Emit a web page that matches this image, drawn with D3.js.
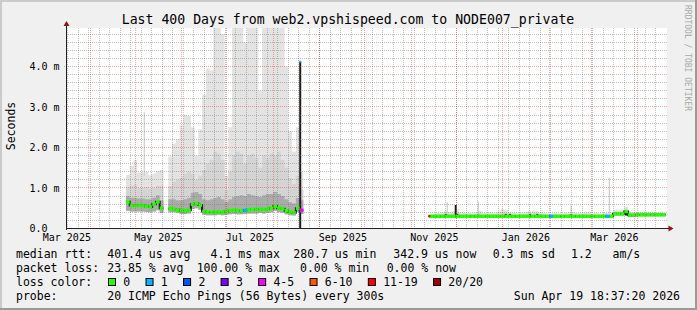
<!DOCTYPE html>
<html>
<head>
<meta charset="utf-8">
<script src="https://cdnjs.cloudflare.com/ajax/libs/d3/7.8.5/d3.min.js"></script>
<style>
  html, body { margin: 0; padding: 0; background: #f0f0f0; }
  svg { display: block; }
  svg text { font-family: 'DejaVu Sans Mono', monospace; fill: #000; white-space: pre; }
</style>
</head>
<body>
<svg id="chart" width="697" height="310"></svg>
<script>
'use strict';

// ---- values (round trip times in milliseconds) ----
var titleText = 'Last 400 Days from web2.vpshispeed.com to NODE007_private';
var startTime = '2025-03-15T18:37:20Z',
    endTime = '2026-04-19T18:37:20Z',
    bucketDays = 2.5;

var xTickLabels = [ 'Mar 2025', 'May 2025', 'Jul 2025', 'Sep 2025', 'Nov 2025', 'Jan 2026', 'Mar 2026' ];
var yTickValues = [ 0, 1, 2, 3, 4 ];
var yTickLabels = [ '0.0', '1.0 m', '2.0 m', '3.0 m', '4.0 m' ];

// three stretches of data, one bucket every 2.5 days
var segmentStarts = [ '2025-04-24T18:00:00Z', '2025-05-23T00:00:00Z', '2025-11-13T00:00:00Z' ];

var medianMs = [
    [ 0.66, 0.57, 0.57, 0.57, 0.57, 0.55, 0.53, 0.60, 0.66, 0.50 ],
    [ 0.49, 0.48, 0.46, 0.44, 0.44, 0.45, 0.60, 0.62, 0.58, 0.42,
      0.40, 0.40, 0.40, 0.41, 0.40, 0.42, 0.44, 0.45, 0.44, 0.43,
      0.45, 0.46, 0.47, 0.47, 0.48, 0.47, 0.48, 0.50, 0.55, 0.50,
      0.49, 0.44, 0.41, 0.39, 0.50, 0.45 ],
    [ 0.30, 0.30, 0.30, 0.30, 0.30, 0.30, 0.30, 0.30, 0.30, 0.30,
      0.30, 0.30, 0.30, 0.30, 0.30, 0.30, 0.30, 0.30, 0.30, 0.30,
      0.30, 0.30, 0.30, 0.30, 0.30, 0.30, 0.30, 0.30, 0.30, 0.30,
      0.30, 0.30, 0.30, 0.30, 0.30, 0.30, 0.30, 0.30, 0.30, 0.30,
      0.30, 0.30, 0.30, 0.30, 0.30, 0.30, 0.30, 0.30, 0.30, 0.36,
      0.36, 0.36, 0.42, 0.33, 0.33, 0.34, 0.34, 0.34, 0.34, 0.34,
      0.34, 0.34, 0.34 ]
];

var minMs = [
    [ 0.44, 0.42, 0.42, 0.42, 0.42, 0.41, 0.40, 0.42, 0.45, 0.38 ],
    [ 0.40, 0.40, 0.38, 0.36, 0.36, 0.37, 0.48, 0.50, 0.46, 0.34,
      0.33, 0.33, 0.33, 0.34, 0.33, 0.34, 0.35, 0.36, 0.35, 0.35,
      0.36, 0.37, 0.37, 0.37, 0.38, 0.37, 0.38, 0.40, 0.44, 0.40,
      0.39, 0.35, 0.33, 0.32, 0.40, 0.36 ],
    [ 0.26, 0.26, 0.26, 0.26, 0.26, 0.26, 0.26, 0.26, 0.26, 0.26,
      0.26, 0.26, 0.26, 0.26, 0.26, 0.26, 0.26, 0.26, 0.26, 0.26,
      0.26, 0.26, 0.26, 0.26, 0.26, 0.26, 0.26, 0.26, 0.26, 0.26,
      0.26, 0.26, 0.26, 0.26, 0.26, 0.26, 0.26, 0.26, 0.26, 0.26,
      0.26, 0.26, 0.26, 0.26, 0.26, 0.26, 0.26, 0.26, 0.26, 0.32,
      0.32, 0.32, 0.34, 0.29, 0.29, 0.30, 0.30, 0.30, 0.30, 0.30,
      0.30, 0.30, 0.30 ]
];

var q3Ms = [
    [ 0.80, 0.76, 0.75, 0.74, 0.74, 0.72, 0.72, 0.76, 0.82, 0.70 ],
    [ 0.72, 0.72, 0.70, 0.70, 0.72, 0.75, 0.88, 0.90, 0.85, 0.72,
      0.70, 0.72, 0.75, 0.78, 0.72, 0.66, 0.72, 0.78, 0.80, 0.82,
      0.80, 0.85, 0.82, 0.80, 0.78, 0.82, 0.85, 0.85, 0.90, 0.85,
      0.80, 0.72, 0.65, 0.62, 0.75, 0.70 ],
    [ 0.32, 0.32, 0.32, 0.32, 0.32, 0.32, 0.32, 0.32, 0.32, 0.32,
      0.32, 0.32, 0.32, 0.32, 0.32, 0.32, 0.32, 0.32, 0.32, 0.32,
      0.32, 0.32, 0.32, 0.32, 0.32, 0.32, 0.32, 0.32, 0.32, 0.32,
      0.32, 0.32, 0.32, 0.32, 0.32, 0.32, 0.32, 0.32, 0.32, 0.32,
      0.32, 0.32, 0.32, 0.32, 0.32, 0.32, 0.32, 0.32, 0.32, 0.38,
      0.38, 0.38, 0.44, 0.36, 0.36, 0.36, 0.36, 0.36, 0.36, 0.36,
      0.36, 0.36, 0.36 ]
];

var p90Ms = [
    [ 1.02, 1.05, 1.08, 1.00, 1.00, 1.02, 0.98, 1.00, 1.05, 1.05 ],
    [ 1.05, 1.15, 1.20, 1.25, 1.35, 1.40, 1.35, 1.20, 1.30, 1.45,
      1.60, 1.70, 1.90, 1.85, 1.70, 0.95, 1.40, 1.80, 1.90, 1.85,
      1.60, 1.80, 1.85, 1.75, 1.50, 1.80, 1.75, 1.85, 1.80, 1.90,
      1.70, 1.50, 1.25, 1.10, 1.30, 0.95 ],
    [ 0.33, 0.34, 0.35, 0.36, 0.38, 0.36, 0.37, 0.40, 0.36, 0.35,
      0.35, 0.35, 0.36, 0.38, 0.35, 0.35, 0.36, 0.35, 0.37, 0.40,
      0.38, 0.36, 0.35, 0.34, 0.35, 0.36, 0.37, 0.38, 0.38, 0.36,
      0.35, 0.34, 0.34, 0.35, 0.34, 0.34, 0.35, 0.36, 0.36, 0.35,
      0.35, 0.36, 0.36, 0.34, 0.35, 0.34, 0.35, 0.35, 0.36, 0.42,
      0.42, 0.42, 0.46, 0.38, 0.37, 0.37, 0.38, 0.37, 0.37, 0.37,
      0.36, 0.36, 0.35 ]
];

var maxMs = [
    [ 1.32, 1.54, 1.69, 1.38, 1.38, 1.40, 1.32, 1.35, 1.42, 1.45 ],
    [ 1.78, 2.10, 2.20, 2.55, 2.80, 2.78, 2.50, 1.80, 2.45, 3.30,
      3.95, 3.90, 4.95, 4.95, 4.80, 1.30, 2.50, 4.95, 4.95, 4.95,
      4.60, 4.95, 4.95, 4.95, 3.40, 4.95, 4.95, 4.95, 4.95, 4.95,
      4.95, 4.00, 2.40, 1.90, 2.50, 1.40 ],
    [ 0.34, 0.37, 0.38, 0.40, 0.44, 0.40, 0.42, 0.48, 0.40, 0.38,
      0.38, 0.38, 0.40, 0.44, 0.38, 0.38, 0.40, 0.38, 0.42, 0.48,
      0.45, 0.40, 0.38, 0.37, 0.38, 0.40, 0.42, 0.44, 0.44, 0.40,
      0.38, 0.37, 0.37, 0.38, 0.37, 0.37, 0.38, 0.40, 0.40, 0.38,
      0.38, 0.40, 0.40, 0.37, 0.38, 0.37, 0.38, 0.38, 0.40, 0.46,
      0.46, 0.47, 0.53, 0.42, 0.40, 0.40, 0.41, 0.40, 0.40, 0.39,
      0.39, 0.38, 0.37 ]
];

// lost pings out of 20 per bucket
var lossCount = [
    [ 0, 0, 0, 0, 0, 0, 0, 0, 0, 0 ],
    [ 0, 0, 0, 0, 0, 0, 0, 0, 0, 0, 0, 0, 0, 0, 0, 0, 0, 0, 0, 0,
      1, 0, 0, 0, 0, 0, 0, 0, 0, 0, 0, 0, 0, 0, 0, 5 ],
    [ 0, 0, 0, 0, 0, 0, 0, 0, 0, 0, 0, 0, 0, 0, 0, 0, 0, 0, 0, 0,
      0, 0, 0, 0, 0, 0, 0, 0, 0, 0, 0, 0, 1, 0, 0, 0, 0, 0, 0, 0,
      0, 0, 0, 0, 0, 0, 0, 1, 0, 0, 0, 0, 0, 0, 0, 0, 0, 0, 0, 0,
      0, 0, 0 ]
];

// single outliers narrower than a bucket
var spikes = [
    { date: '2025-05-07T00:00:00Z', lo: 1.30, hi: 2.87, tone: 'light' },
    { date: '2025-08-18T22:00:00Z', lo: 0.00, hi: 4.12, tone: 'dark', tipLoss: 1 },
    { date: '2025-11-13T00:00:00Z', lo: 0.28, hi: 0.31, tone: 'dark', tipLoss: 15 },
    { date: '2025-11-23T22:00:00Z', lo: 0.27, hi: 0.36, tone: 'dark' },
    { date: '2025-11-25T00:00:00Z', lo: 0.36, hi: 0.65, tone: 'light' },
    { date: '2025-11-30T14:00:00Z', lo: 0.27, hi: 0.58, tone: 'dark' },
    { date: '2025-12-01T17:00:00Z', lo: 0.27, hi: 0.36, tone: 'dark' },
    { date: '2025-12-15T16:00:00Z', lo: 0.36, hi: 0.67, tone: 'light' },
    { date: '2025-12-15T16:00:00Z', lo: 0.28, hi: 0.34, tone: 'dark' },
    { date: '2026-01-02T22:00:00Z', lo: 0.27, hi: 0.36, tone: 'dark' },
    { date: '2026-01-05T19:00:00Z', lo: 0.27, hi: 0.36, tone: 'dark' },
    { date: '2026-01-19T02:00:00Z', lo: 0.27, hi: 0.36, tone: 'dark' },
    { date: '2026-01-24T00:00:00Z', lo: 0.27, hi: 0.36, tone: 'dark' },
    { date: '2026-02-15T12:00:00Z', lo: 0.36, hi: 0.57, tone: 'light' },
    { date: '2026-02-15T12:00:00Z', lo: 0.27, hi: 0.35, tone: 'dark' },
    { date: '2026-03-13T00:00:00Z', lo: 0.36, hi: 1.25, tone: 'light' },
    { date: '2026-03-24T02:00:00Z', lo: 0.32, hi: 0.42, tone: 'dark' }
];

var lossLabels = [ '0', '1', '2', '3', '4-5', '6-10', '11-19', '20/20' ];
var lossLimits = [ 0, 1, 2, 3, 5, 10, 19, 20 ];
var lossColors = [ '#26ff00', '#00b8ff', '#0059ff', '#7e00ff', '#ff00ff', '#ff5500', '#ff0000', '#a10000' ];

var rttStats = [ '401.4 us avg', '4.1 ms max', '280.7 us min', '342.9 us now', '0.3 ms sd', '1.2   am/s' ];
var lossStats = [ '23.85 % avg', '100.00 % max', '0.00 % min', '0.00 % now' ];
var probeText = '20 ICMP Echo Pings (56 Bytes) every 300s';
var stampText = 'Sun Apr 19 18:37:20 2026';

// ---- drawing ----
(function(){
    var W = 697, H = 310,
        left = 66, right = 666, top = 28, bottom = 228;

    var svg = d3.select( '#chart' );

    var x = d3.scaleUtc()
        .domain( [ new Date( startTime ), new Date( endTime ) ] )
        .range( [ left, right ] );
    var y = d3.scaleLinear()
        .domain( [ 0, 4.95 ] )
        .range( [ bottom + 0.5, top ] );

    function crisp( v ){ return Math.floor( v ) + 0.5; }

    function lossColor( n ){
        for( var i = 0; i < lossLimits.length; i++ ){
            if( n <= lossLimits[i] ){ return lossColors[i]; }
        }
        return lossColors[ lossColors.length - 1 ];
    }

    // frame
    svg.append( 'rect' ).attr( 'width', W ).attr( 'height', H ).attr( 'fill', '#f0f0f0' );
    svg.append( 'path' ).attr( 'd', 'M0,1H' + W + 'M1,0V' + H )
        .attr( 'stroke', '#cbcbcb' ).attr( 'stroke-width', 2 );
    svg.append( 'path' ).attr( 'd', 'M0,' + ( H - 1 ) + 'H' + W + 'M' + ( W - 1 ) + ',0V' + H )
        .attr( 'stroke', '#9a9a9a' ).attr( 'stroke-width', 2 );

    // canvas
    svg.append( 'rect' )
        .attr( 'x', left ).attr( 'y', top )
        .attr( 'width', right - left + 1 ).attr( 'height', bottom - top )
        .attr( 'fill', '#ffffff' );

    // buckets
    var segments = segmentStarts.map( function( s, si ){
        var t0 = new Date( s );
        return medianMs[si].map( function( m, k ){
            return {
                t0 : d3.utcHour.offset( t0, k * bucketDays * 24 ),
                t1 : d3.utcHour.offset( t0, ( k + 1 ) * bucketDays * 24 ),
                median : m,
                min : minMs[si][k],
                q3 : q3Ms[si][k],
                p90 : p90Ms[si][k],
                max : maxMs[si][k],
                loss : lossCount[si][k]
            };
        });
    });

    function stepPoints( seg ){
        var pts = seg.map( function( d ){ return { t : d.t0, d : d }; } );
        pts.push( { t : seg[ seg.length - 1 ].t1, d : seg[ seg.length - 1 ] } );
        return pts;
    }

    var smokeLayers = [
        { lo : 'min', hi : 'max', fill : '#e3e3e3' },
        { lo : 'min', hi : 'p90', fill : '#d4d4d4' },
        { lo : 'min', hi : 'q3', fill : '#ababab' }
    ];

    var dataG = svg.append( 'g' );

    smokeLayers.forEach( function( layer ){
        var area = d3.area()
            .x( function( p ){ return x( p.t ); } )
            .y0( function( p ){ return y( p.d[ layer.lo ] ); } )
            .y1( function( p ){ return y( Math.min( p.d[ layer.hi ], 4.95 ) ); } )
            .curve( d3.curveStepAfter );
        dataG.selectAll( null )
            .data( segments )
            .enter().append( 'path' )
            .attr( 'd', function( seg ){ return area( stepPoints( seg ) ); } )
            .attr( 'fill', layer.fill );
    });

    // spikes
    dataG.selectAll( null )
        .data( spikes )
        .enter().append( 'line' )
        .attr( 'x1', function( d ){ return x( new Date( d.date ) ); } )
        .attr( 'x2', function( d ){ return x( new Date( d.date ) ); } )
        .attr( 'y1', function( d ){ return y( d.lo ); } )
        .attr( 'y2', function( d ){ return y( d.hi ); } )
        .attr( 'stroke', function( d ){ return d.tone === 'dark' ? '#1c1c1c' : '#d2d2d2'; } )
        .attr( 'stroke-width', function( d ){ return d.tone === 'dark' ? 2 : 1.4; } );

    // dark median trace, visible at the jumps
    var trace = d3.line()
        .x( function( p ){ return x( p.t ); } )
        .y( function( p ){ return y( p.d.median ); } )
        .curve( d3.curveStepAfter );
    dataG.selectAll( null )
        .data( segments )
        .enter().append( 'path' )
        .attr( 'd', function( seg ){ return trace( stepPoints( seg ) ); } )
        .attr( 'fill', 'none' )
        .attr( 'stroke', '#1c1c1c' )
        .attr( 'stroke-width', 2 );

    // median bars coloured by loss
    var buckets = d3.merge( segments );
    dataG.selectAll( null )
        .data( buckets )
        .enter().append( 'line' )
        .attr( 'x1', function( d ){ return x( d.t0 ); } )
        .attr( 'x2', function( d ){ return x( d.t1 ); } )
        .attr( 'y1', function( d ){ return y( d.median ); } )
        .attr( 'y2', function( d ){ return y( d.median ); } )
        .attr( 'stroke', function( d ){ return lossColor( d.loss ); } )
        .attr( 'stroke-width', 3.5 );

    dataG.selectAll( null )
        .data( spikes.filter( function( d ){ return d.tipLoss != null; } ) )
        .enter().append( 'rect' )
        .attr( 'x', function( d ){ return x( new Date( d.date ) ) - 1; } )
        .attr( 'y', function( d ){ return y( d.hi ) - 1; } )
        .attr( 'width', 2 ).attr( 'height', 2 )
        .attr( 'fill', function( d ){ return lossColor( d.tipLoss ); } );

    // grid on top of the data, like rrdtool
    var gridG = svg.append( 'g' ).attr( 'fill', 'none' ).attr( 'stroke-dasharray', '1,1' );
    var minorStroke = 'rgba(120,120,120,0.45)',
        majorStroke = 'rgba(225,40,40,0.42)';

    var weeks = d3.utcMonday.range( x.domain()[0], x.domain()[1] ),
        months = d3.utcMonth.range( x.domain()[0], x.domain()[1] );

    gridG.selectAll( null ).data( weeks ).enter().append( 'line' )
        .attr( 'x1', function( d ){ return crisp( x( d ) ); } )
        .attr( 'x2', function( d ){ return crisp( x( d ) ); } )
        .attr( 'y1', top ).attr( 'y2', bottom )
        .attr( 'stroke', minorStroke );

    var minorY = d3.range( 1, 25 ).filter( function( i ){ return i % 5 !== 0; } )
        .map( function( i ){ return i / 5; } );
    gridG.selectAll( null ).data( minorY ).enter().append( 'line' )
        .attr( 'x1', left ).attr( 'x2', right + 1 )
        .attr( 'y1', function( d ){ return crisp( y( d ) ); } )
        .attr( 'y2', function( d ){ return crisp( y( d ) ); } )
        .attr( 'stroke', minorStroke );

    gridG.selectAll( null ).data( months ).enter().append( 'line' )
        .attr( 'x1', function( d ){ return crisp( x( d ) ); } )
        .attr( 'x2', function( d ){ return crisp( x( d ) ); } )
        .attr( 'y1', top ).attr( 'y2', bottom + 2 )
        .attr( 'stroke', majorStroke );

    gridG.selectAll( null ).data( yTickValues.slice( 1 ) ).enter().append( 'line' )
        .attr( 'x1', left - 2 ).attr( 'x2', right + 2 )
        .attr( 'y1', function( d ){ return crisp( y( d ) ); } )
        .attr( 'y2', function( d ){ return crisp( y( d ) ); } )
        .attr( 'stroke', majorStroke );

    // axes lines and arrows
    svg.append( 'path' )
        .attr( 'd', 'M' + left + ',' + crisp( bottom ) + 'H' + ( right + 4 ) +
                    'M' + crisp( left ) + ',' + ( bottom + 2 ) + 'V' + ( top - 2 ) )
        .attr( 'stroke', '#222' ).attr( 'stroke-width', 1 ).attr( 'fill', 'none' );
    svg.append( 'path' )
        .attr( 'd', 'M' + ( right + 2.5 ) + ',' + ( bottom - 2.5 ) + 'L' + ( right + 7.5 ) + ',' + ( bottom + 0.5 ) +
                    'L' + ( right + 2.5 ) + ',' + ( bottom + 3.5 ) + 'Z' +
                    'M' + ( left - 2.5 ) + ',' + ( top - 2 ) + 'L' + ( left + 0.5 ) + ',' + ( top - 7 ) +
                    'L' + ( left + 3.5 ) + ',' + ( top - 2 ) + 'Z' )
        .attr( 'fill', '#9b1111' );

    // axis labels via d3 axes
    var parseMonth = d3.utcParse( '%b %Y' );
    var xTickDates = xTickLabels.map( function( l ){ return d3.utcDay.offset( parseMonth( l ), 15 ); } );

    var gx = svg.append( 'g' )
        .attr( 'transform', 'translate(0,241)' )
        .call( d3.axisBottom( x )
            .tickValues( xTickDates )
            .tickFormat( function( d, i ){ return xTickLabels[i]; } )
            .tickSize( 0 ) );
    gx.select( '.domain' ).remove();
    gx.selectAll( 'text' ).attr( 'y', 0 ).attr( 'dy', null ).style( 'font-size', '10px' );

    var gy = svg.append( 'g' )
        .attr( 'transform', 'translate(' + left + ',0)' )
        .call( d3.axisLeft( y )
            .tickValues( yTickValues )
            .tickFormat( function( d, i ){ return yTickLabels[i]; } )
            .tickSize( 0 ) );
    gy.select( '.domain' ).remove();
    gy.selectAll( 'text' )
        .attr( 'x', -36.5 )
        .attr( 'text-anchor', 'start' )
        .style( 'font-size', '10px' );

    // titles
    svg.append( 'text' )
        .attr( 'x', 348 ).attr( 'y', 24 )
        .attr( 'text-anchor', 'middle' )
        .style( 'font-size', '13.2px' )
        .text( titleText );

    svg.append( 'text' )
        .attr( 'transform', 'translate(15,126) rotate(-90)' )
        .attr( 'text-anchor', 'middle' )
        .style( 'font-size', '11.5px' )
        .text( 'Seconds' );

    svg.append( 'text' )
        .attr( 'transform', 'translate(684.5,5) rotate(90)' )
        .style( 'font-size', '8px' )
        .style( 'fill', '#a8a8a8' )
        .text( 'RRDTOOL / TOBI OETIKER' );

    // legend
    var legend = svg.append( 'g' ).style( 'font-size', '11.5px' );
    function put( xp, yp, str, anchor ){
        return legend.append( 'text' )
            .attr( 'x', xp ).attr( 'y', yp )
            .attr( 'text-anchor', anchor || 'start' )
            .text( str );
    }

    var rttX = [ 107.3, 210.6, 293.3, 393.3, 492.7, 571 ],
        lossX = [ 107.3, 196.7, 300, 386.7 ];

    put( 16, 257.7, 'median rtt:' );
    rttStats.forEach( function( s, i ){ put( rttX[i], 257.7, s ); } );

    put( 16, 271.7, 'packet loss:' );
    lossStats.forEach( function( s, i ){ put( lossX[i], 271.7, s ); } );

    put( 16, 285.7, 'loss color:' );
    var cursor = 108;
    lossLabels.forEach( function( l, i ){
        legend.append( 'rect' )
            .attr( 'x', cursor + 0.5 ).attr( 'y', 278.5 )
            .attr( 'width', 7 ).attr( 'height', 7 )
            .attr( 'fill', lossColors[i] )
            .attr( 'stroke', '#000' ).attr( 'stroke-width', 1 );
        var t = put( cursor + 15.3, 285.7, l );
        cursor = cursor + 15.3 + t.node().getComputedTextLength() + 15.3;
    });

    put( 16, 299.7, 'probe:' );
    put( 107.3, 299.7, probeText );
    put( 680, 299.7, stampText, 'end' );
})();
</script>
</body>
</html>
